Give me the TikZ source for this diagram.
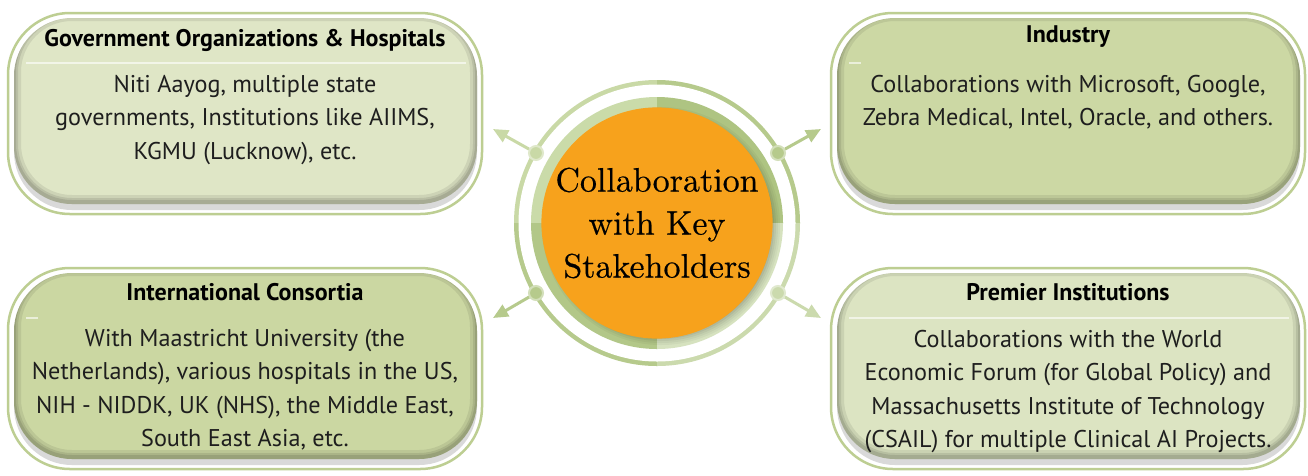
\documentclass[tikz,border=0pt]{standalone}
\usepackage{fontspec}
\newfontfamily\bodyfont{PT Sans}
\newfontfamily\hubfont{lmroman10-regular}[Extension=.otf, FakeBold=0.35]
\usetikzlibrary{arrows.meta,calc}
\definecolor{ringborder}{HTML}{BDCE92}
\definecolor{fillA}{HTML}{DFE6C6}
\definecolor{fillB}{HTML}{CCD8A4}
\definecolor{fillC}{HTML}{CBD7A2}
\definecolor{fillD}{HTML}{DCE4C2}
\definecolor{qTL}{HTML}{CADBA9}
\definecolor{qTR}{HTML}{AEC482}
\definecolor{qBL}{HTML}{B2C788}
\definecolor{qBR}{HTML}{D6E2BF}
\definecolor{oTL}{HTML}{C9D9A6}
\definecolor{oTR}{HTML}{B6CA8C}
\definecolor{oBL}{HTML}{B6CA8C}
\definecolor{oBR}{HTML}{CBDAAD}
\definecolor{hub}{HTML}{F7A21C}
\definecolor{txt}{HTML}{1E1E1E}
\newcommand\stakeframe[4]{%
  \begin{scope}[shift={(#1,#2)}]
    \draw[ringborder, line width=2.5, fill=white, rounded corners=62] (0,0) rectangle (474,201);
    \fill[black!15, rounded corners=58] (6,8) rectangle (469,197);
    \fill[#3, rounded corners=58] (6,5) rectangle (469,191);
    \begin{scope}
      \clip[rounded corners=58] (6,5) rectangle (469,191);
      \draw[black, opacity=0.08, line width=14, rounded corners=58] (6,1) rectangle (469,189);
      \draw[black, opacity=0.09, line width=8, rounded corners=58] (6,1) rectangle (469,189);
      \draw[black, opacity=0.10, line width=4, rounded corners=58] (6,1) rectangle (469,189);
      #4
    \end{scope}
  \end{scope}}
\tikzset{
  boxtitle/.style={font=\bodyfont\bfseries\fontsize{24}{30}\selectfont, text=black, anchor=center, inner sep=0},
  boxbody/.style={font=\bodyfont\fontsize{24.2}{33.4}\selectfont, text=txt, align=center, anchor=north, inner sep=0},
  dotnode/.style={circle, fill=#1, draw=white!40!#1, line width=2, minimum size=14, inner sep=0},
  spoke/.style={line width=3, draw=#1, -{Triangle[length=15, width=13]}},
}
\begin{document}
\begin{tikzpicture}[x=1pt, y=-1pt]
\useasboundingbox (0,0) rectangle (1308,475);
\fill[white] (0,0) rectangle (1308,475);
% boxes
\stakeframe{8}{13}{fillA}{\draw[white, opacity=0.6, line width=1.2] (18,50) -- (458,50);}
\stakeframe{831}{13}{fillB}{\draw[white, opacity=0.6, line width=1.2] (18,50) -- (30,50);}
\stakeframe{8}{268}{fillC}{\draw[white, opacity=0.6, line width=1.2] (18,50) -- (30,50);}
\stakeframe{831}{268}{fillD}{\draw[white, opacity=0.6, line width=1.2] (18,50) -- (458,50);}
% texts
\node[boxtitle] (t1) at (245,40) {Government Organizations \& Hospitals};
\node[boxbody] (b1) at (245,75) {Niti Aayog, multiple state\\governments, Institutions like AIIMS,\\KGMU (Lucknow), etc.};
\node[boxtitle] (t2) at (1068,37) {Industry};
\node[boxbody] (b2) at (1068,75) {Collaborations with Microsoft, Google,\\Zebra Medical, Intel, Oracle, and others.};
\node[boxtitle] (t3) at (245,292) {International Consortia};
\node[boxbody] (b3) at (245,329) {With Maastricht University (the\\Netherlands), various hospitals in the US,\\NIH - NIDDK, UK (NHS), the Middle East,\\South East Asia, etc.};
\node[boxtitle] (t4) at (1068,292) {Premier Institutions};
\node[boxbody] (b4) at (1068,330) {Collaborations with the World\\Economic Forum (for Global Policy) and\\Massachusetts Institute of Technology\\(CSAIL) for multiple Clinical AI Projects.};
% hub
\coordinate (c) at (657,223);
\begin{scope}
  \clip (c) circle[radius=143];
  \fill[oTL] (c) rectangle ++(-150,-150);
  \fill[oTR] (c) rectangle ++(150,-150);
  \fill[oBL] (c) rectangle ++(-150,150);
  \fill[oBR] (c) rectangle ++(150,150);
\end{scope}
\fill[white] (c) circle[radius=138.5];
\begin{scope}
  \clip (c) circle[radius=126];
  \fill[qTL] (c) rectangle ++(-150,-150);
  \fill[qTR] (c) rectangle ++(150,-150);
  \fill[qBL] (c) rectangle ++(-150,150);
  \fill[qBR] (c) rectangle ++(150,150);
  \foreach \r/\o in {119/0.04,117/0.04,115/0.05,113/0.06,111/0.08}
    \fill[black, opacity=\o] ($(c)+(4,3)$) circle[radius=\r];
\end{scope}
\node[circle, fill=hub, minimum size=216, inner sep=0, align=center,
      font=\hubfont\fontsize{34}{43}\selectfont] (hubnode) at (c) {Collaboration\\with Key\\Stakeholders};
% dots and spokes
\node[dotnode=oTL] (d1) at ($(c)+(-121,-70)$) {};
\node[dotnode=oTR] (d2) at ($(c)+(121,-70)$) {};
\node[dotnode=oBL] (d3) at ($(c)+(-121,70)$) {};
\node[dotnode=oBR] (d4) at ($(c)+(121,70)$) {};
\coordinate (e1) at (493,129);
\coordinate (e2) at (821,129);
\coordinate (e3) at (493,318);
\coordinate (e4) at (821,318);
\draw[spoke=oTL] (d1) -- (e1);
\draw[spoke=oTR] (d2) -- (e2);
\draw[spoke=oBL] (d3) -- (e3);
\draw[spoke=oBR] (d4) -- (e4);
\end{tikzpicture}
\end{document}
